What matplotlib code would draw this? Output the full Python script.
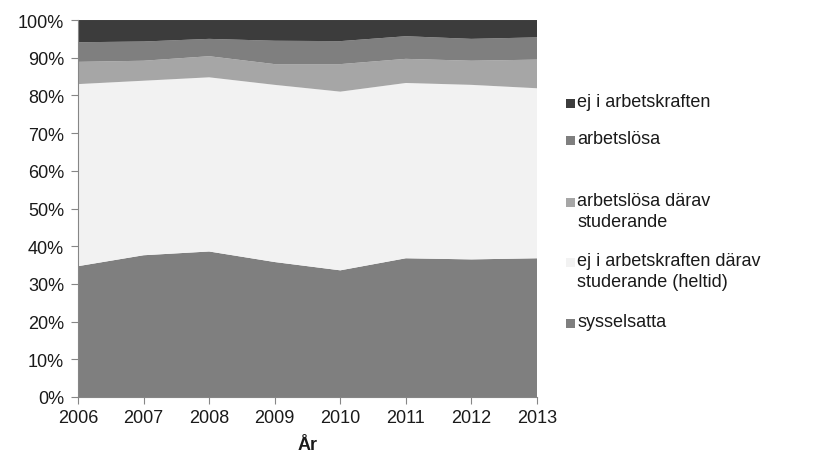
import matplotlib.pyplot as plt
from matplotlib.patches import Rectangle

plt.rcParams['font.family'] = ['Liberation Sans', 'DejaVu Sans']

years = [2006, 2007, 2008, 2009, 2010, 2011, 2012, 2013]

# Andel av gruppen (%), staplade nedifrån och upp
sysselsatta = [34.7, 37.6, 38.6, 35.8, 33.6, 36.8, 36.5, 36.8]
ej_ak_studerande = [48.3, 46.3, 46.2, 47.0, 47.4, 46.5, 46.3, 45.1]
arbetslosa_studerande = [5.9, 5.3, 5.6, 5.5, 7.3, 6.4, 6.4, 7.6]
arbetslosa = [5.2, 5.1, 4.6, 6.2, 6.1, 6.0, 5.8, 5.9]
ej_ak = [5.9, 5.7, 5.0, 5.5, 5.6, 4.3, 5.0, 4.6]

labels = ['sysselsatta', 'ej i arbetskraften därav\nstuderande (heltid)',
          'arbetslösa därav\nstuderande', 'arbetslösa', 'ej i arbetskraften']
colors = ['#7f7f7f', '#f2f2f2', '#a6a6a6', '#7f7f7f', '#3c3c3c']

fig = plt.figure(figsize=(8.14, 4.6), dpi=100)
ax = fig.add_axes([0.0958, 0.1348, 0.5639, 0.8195])

ax.stackplot(years, sysselsatta, ej_ak_studerande, arbetslosa_studerande,
             arbetslosa, ej_ak, colors=colors, linewidth=0)

ax.set_xlim(2006, 2013)
ax.set_ylim(0, 100)
ax.set_yticks(range(0, 101, 10))
ax.set_yticklabels([f'{v}%' for v in range(0, 101, 10)])
ax.set_xticks(years)
for s in ['top', 'right']:
    ax.spines[s].set_visible(False)
for s in ['left', 'bottom']:
    ax.spines[s].set_color('#868686')
ax.tick_params(axis='both', colors='#868686', labelcolor='#1a1a1a',
               labelsize=13, length=5)
ax.tick_params(axis='y', pad=5)
ax.set_xlabel('År', fontsize=13, fontweight='bold', color='#1a1a1a', labelpad=7)

# Förklaring, översta serien först
legend_y = [104, 141, 203, 263, 324]
for i, (lab, col) in enumerate(zip(labels[::-1], colors[::-1])):
    y = legend_y[i]
    fig.patches.append(Rectangle((566 / 814, 1 - (y + 5) / 460), 9 / 814, 9 / 460,
                                 transform=fig.transFigure, facecolor=col,
                                 edgecolor='none'))
    fig.text(577 / 814, 1 - (y - 10) / 460, lab, fontsize=13, color='#1a1a1a',
             va='top', ha='left', linespacing=1.3)

fig.savefig('out.png', dpi=100)
